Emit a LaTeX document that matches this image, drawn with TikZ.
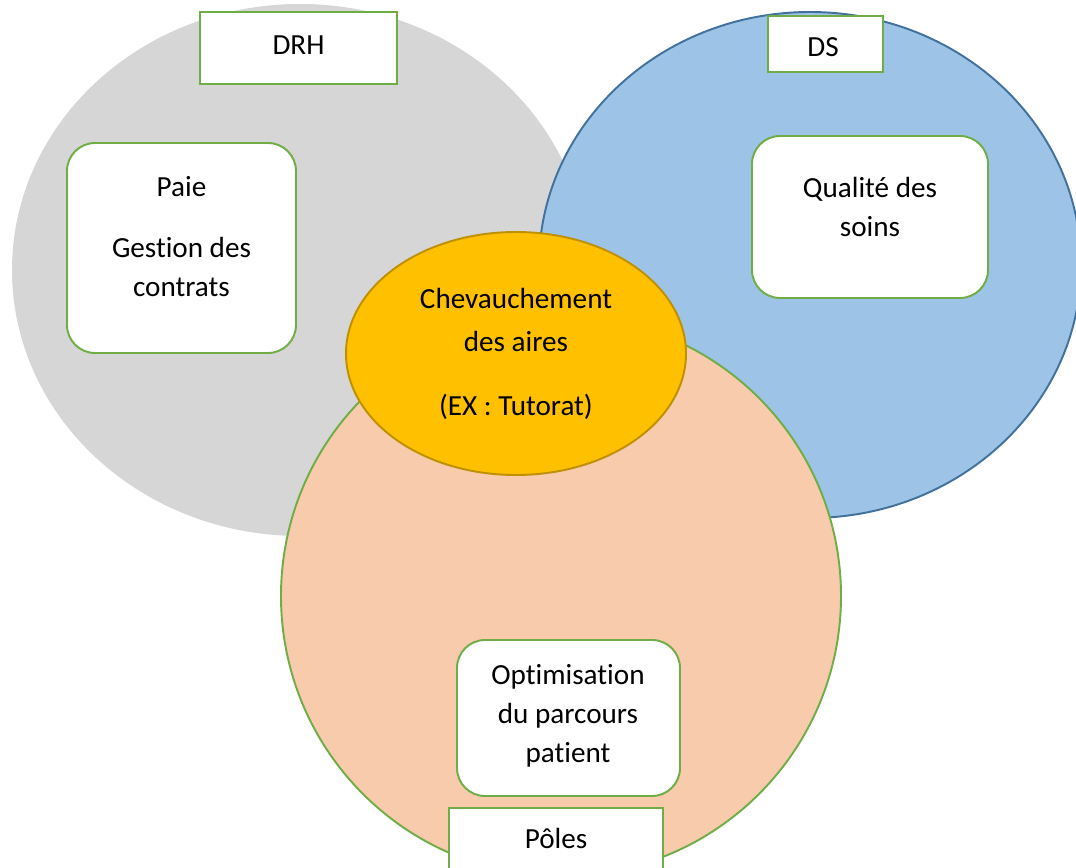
\documentclass[tikz,border=0pt]{standalone}
\usepackage{fontspec}
\setmainfont{Carlito}[Ligatures=NoCommon]
\usetikzlibrary{shapes.geometric}

\definecolor{vertCadre}{HTML}{70AD47}
\definecolor{grisDRH}{HTML}{D6D6D6}
\definecolor{bleuDS}{HTML}{9DC3E6}
\definecolor{bleuBord}{HTML}{41719C}
\definecolor{saumonPoles}{HTML}{F8CBAD}
\definecolor{orangeAire}{HTML}{FFC000}
\definecolor{orangeBord}{HTML}{BF9000}

\def\unitPx{0.02cm}
\def\coinRayon{0.56cm}

\tikzset{
  texte/.style = {align=center, inner sep=0pt,
    font=\fontsize{16.6}{22.2}\selectfont},
  cadre/.style = {texte, draw=vertCadre, fill=white, line width=1.1pt},
  boite/.style = {cadre, rounded corners=\coinRayon},
  aire/.style = {ellipse, draw=orangeBord, fill=orangeAire, line width=1.1pt,
    align=center, inner sep=0pt,
    font=\fontsize{16.6}{25}\selectfont}
}

\begin{document}
\begin{tikzpicture}[x=\unitPx, y=-\unitPx]
    \useasboundingbox (0,0) rectangle (1076,868);

    % les trois aires
    \fill [grisDRH] (300,270) ellipse [x radius=288, y radius=266];
    \draw [fill=bleuDS, draw=bleuBord, line width=1.1pt]
        (810,265) ellipse [x radius=271, y radius=253];
    \draw [fill=saumonPoles, draw=vertCadre, line width=1.1pt]
        (561,596) circle [radius=280];

    % zone commune
    \node [aire, minimum width={340*\unitPx}, minimum height={243*\unitPx}]
        (chevauchement) at (516,353.5)
        {Chevauchement\\des aires\\[11pt](EX : Tutorat)};

    % titres
    \node [cadre, minimum width={197*\unitPx}, minimum height={72*\unitPx}]
        (drh) at (298.5,48) {};
    \node [texte] (drhTexte) at (298.5,45) {DRH};
    \node [cadre, minimum width={115*\unitPx}, minimum height={56*\unitPx}]
        (ds) at (825.5,44) {};
    \node [texte] (dsTexte) at (823,47) {DS};
    \node [cadre, minimum width={214*\unitPx}, minimum height={72*\unitPx}]
        (poles) at (556,844) {};
    \node [texte] (polesTexte) at (556,838) {Pôles};

    % missions
    \node [boite, minimum width={229*\unitPx}, minimum height={210*\unitPx}]
        (paie) at (181.5,248) {};
    \node [texte] (paieTexte) at (181.5,237)
        {Paie\\[12.5pt]Gestion des\\contrats};
    \node [boite, minimum width={236*\unitPx}, minimum height={162*\unitPx}]
        (qualite) at (870,217) {};
    \node [texte] (qualiteTexte) at (870,206.5) {Qualité des\\soins};
    \node [boite, minimum width={223*\unitPx}, minimum height={156*\unitPx}]
        (parcours) at (568.5,718) {};
    \node [texte] (parcoursTexte) at (568,715.5)
        {Optimisation\\du parcours\\patient};
\end{tikzpicture}
\end{document}
